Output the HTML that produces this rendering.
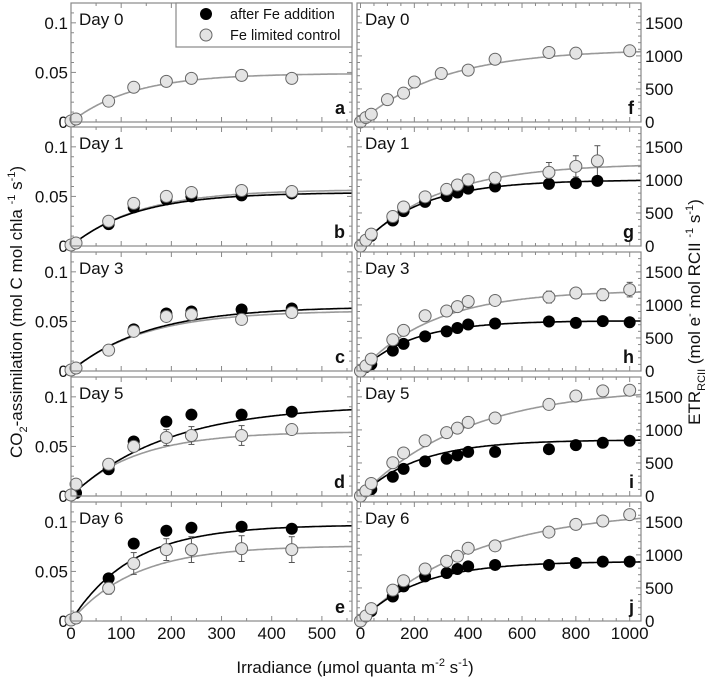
<!DOCTYPE html>
<html><head><meta charset="utf-8"><style>
body{margin:0;background:#fff}
svg{display:block;font-family:"Liberation Sans",Arial,sans-serif}
</style></head><body>
<svg id="c" width="717" height="677" viewBox="0 0 717 677" xmlns="http://www.w3.org/2000/svg"></svg>
<script>
// ---- data ----
const dayLabels=["Day 0","Day 1","Day 3","Day 5","Day 6"];
const leftLetters=["a","b","c","d","e"];
const rightLetters=["f","g","h","i","j"];
const leftX=[0,10,75,125,190,240,340,440];
const leftBlack=[null,[0.001,0.003,0.022,0.039,0.047,0.050,0.051,0.053],[0.001,0.003,0.021,0.042,0.058,0.060,0.062,0.063],[0.001,0.003,0.027,0.055,0.075,0.082,0.082,0.085],[0.001,0.003,0.043,0.078,0.091,0.094,0.095,0.093]];
const leftGray=[[0.001,0.003,0.021,0.035,0.041,0.044,0.047,0.044],[0.001,0.003,0.025,0.043,0.050,0.054,0.056,0.055],[0.001,0.003,0.021,0.040,0.055,0.057,0.052,0.059],[0.001,0.012,0.032,0.050,0.059,0.061,0.061,0.067],[0.001,0.003,0.033,0.058,0.072,0.072,0.073,0.072]];
const leftGrayErr=[[0,0,0,0.002,0,0,0.002,0],[0,0,0,0,0,0,0,0.002],[0,0,0,0,0,0,0,0],[0,0,0,0.005,0.008,0.009,0.01,0.003],[0,0,0.006,0.011,0.011,0.013,0.013,0.013]];
const leftBlackPmax=[null,0.054,0.065,0.092,0.097];
const leftBlackAlpha=[null,0.00042,0.00042,0.00048,0.0008];
const leftGrayPmax=[0.049,0.057,0.061,0.065,0.076];
const leftGrayAlpha=[0.0004,0.00042,0.00042,0.0005,0.0006];

const rightXs=[[0,20,40,100,160,200,300,400,500,700,800,1000],[0,20,40,120,160,240,320,360,400,500,700,800,880],[0,20,40,120,160,240,320,360,400,500,700,800,900,1000],[0,20,40,120,160,240,320,360,400,500,700,800,900,1000],[0,20,40,120,160,240,320,360,400,500,700,800,900,1000]];
const rightBlack=[null,[0,77,154,385,528,667,754,810,867,900,940,950,985],[0,61,102,308,410,523,600,651,703,718,749,728,754,738],[0,77,103,292,410,523,564,615,667,667,708,770,805,836],[0,76,152,370,523,675,726,787,827,848,848,878,898,898]];
const rightGray=[[0,67,118,338,436,605,733,785,949,1051,1041,1077],[0,87,180,446,590,744,856,923,1000,1026,1113,1205,1287],[0,77,180,472,615,836,908,974,1051,1067,1118,1180,1154,1231],[0,77,190,503,651,836,959,1026,1113,1180,1385,1513,1590,1600],[0,76,188,467,609,787,904,980,1101,1137,1345,1462,1513,1609]];
const rightGrayErr=[[0,0,0,0,0,50,0,0,0,0,0,0],[0,0,0,0,0,0,0,0,50,50,150,160,230],[0,0,0,0,0,0,0,0,0,50,90,70,90,110],[0,0,0,0,0,0,0,0,0,0,60,0,0,0],[0,0,0,0,0,0,0,0,0,0,70,70,80,60]];
const rightBlackPmax=[null,1000,760,850,900];
const rightBlackAlpha=[null,4.5,4,4,4.2];
const rightGrayPmax=[1100,1250,1220,1650,1700];
const rightGrayAlpha=[3.6,4.3,4.5,4.2,4.0];
const leftXTicks=[0,100,200,300,400,500];
const rightXTicks=[0,200,400,600,800,1000];
const leftYTicks=[0,0.05,0.1];
const leftYTickLabels=["0","0.05","0.1"];
const rightYTicks=[0,500,1000,1500];

// ---- drawing ----
const svg=document.getElementById('c');
const NS='http://www.w3.org/2000/svg';
function mk(tag,attrs,parent){const e=document.createElementNS(NS,tag);for(const k in attrs)e.setAttribute(k,attrs[k]);(parent||svg).appendChild(e);return e;}
const tops=[3,127,252,377,502];
const PH=119;
const L={x0:71,x1:352,xmin:0,xmax:560,ymin:0,ymax:0.12};
const R={x0:357,x1:641,xmin:-13,xmax:1042,ymin:0,ymax:1800};
function sx(p,v){return p.x0+(v-p.xmin)/(p.xmax-p.xmin)*(p.x1-p.x0);}
function sy(p,top,v){return top+PH-(v-p.ymin)/(p.ymax-p.ymin)*PH;}

function panel(p,r,side){
  const top=tops[r];
  const g=mk('g',{});
  
  
  const xstep=50, xmaj=side==='L'?100:200;
  for(let v=0;v<=p.xmax;v+=xstep){const X=sx(p,v);const len=(v%xmaj===0)?5:3;
    mk('line',{x1:X,x2:X,y1:top+PH,y2:top+PH-len,stroke:'#888','stroke-width':1},g);
    mk('line',{x1:X,x2:X,y1:top,y2:top+len,stroke:'#888','stroke-width':1},g);}
  const ystep=side==='L'?0.01:100, ymaj=side==='L'?0.05:500;
  for(let i=0;i*ystep<=p.ymax+1e-9;i++){const v=i*ystep;const Y=sy(p,top,v);const len=(Math.abs(v/ymaj-Math.round(v/ymaj))<1e-6)?5:3;
    mk('line',{x1:p.x0,x2:p.x0+len,y1:Y,y2:Y,stroke:'#888','stroke-width':1},g);
    mk('line',{x1:p.x1,x2:p.x1-len,y1:Y,y2:Y,stroke:'#888','stroke-width':1},g);}
  if(side==='L'){leftYTicks.forEach((v,i)=>{const t=mk('text',{x:p.x0-3,y:sy(p,top,v)+6,'font-size':17,'text-anchor':'end',fill:'#111'},g);t.textContent=leftYTickLabels[i];});}
  else{rightYTicks.forEach(v=>{const t=mk('text',{x:p.x1+4,y:sy(p,top,v)+6,'font-size':17,'text-anchor':'start',fill:'#111'},g);t.textContent=v;});}
  if(r===4){(side==='L'?leftXTicks:rightXTicks).forEach(v=>{const t=mk('text',{x:sx(p,v),y:top+PH+18,'font-size':17,'text-anchor':'middle',fill:'#111'},g);t.textContent=v;});}
  const dl=mk('text',{x:p.x0+8,y:top+22,'font-size':17,fill:'#111'},g);dl.textContent=dayLabels[r];
  const lt=mk('text',{x:p.x1-7,y:top+PH-8,'font-size':18,'font-weight':'bold','text-anchor':'end',fill:'#111'},g);lt.textContent=side==='L'?leftLetters[r]:rightLetters[r];
  const clipId='clip'+side+r;
  const cp=mk('clipPath',{id:clipId},g);mk('rect',{x:p.x0,y:top,width:p.x1-p.x0,height:PH},cp);
  const curves=side==='L'?[[leftGrayPmax[r],leftGrayAlpha[r],'#999'],[leftBlackPmax[r],leftBlackAlpha[r],'#000']]:[[rightGrayPmax[r],rightGrayAlpha[r],'#999'],[rightBlackPmax[r],rightBlackAlpha[r],'#000']];
  curves.forEach(([pm,al,col])=>{if(pm==null)return;let d='';for(let i=0;i<=200;i++){const v=p.xmax*i/200;const y=pm*(1-Math.exp(-al*v/pm));d+=(i?'L':'M')+sx(p,v).toFixed(1)+','+sy(p,top,y).toFixed(1);}
    const c=mk('path',{d:d,fill:'none',stroke:col,'stroke-width':1.6,'clip-path':'url(#'+clipId+')'},g);
    
    });
  const xs=side==='L'?leftX:rightXs[r];
  const gy=side==='L'?leftGray[r]:rightGray[r];
  const ge=side==='L'?leftGrayErr[r]:rightGrayErr[r];
  const by=side==='L'?leftBlack[r]:rightBlack[r];
  gy.forEach((v,i)=>{const X=sx(p,xs[i]);if(ge[i]>0){const y1=sy(p,top,v+ge[i]),y2=sy(p,top,v-ge[i]);
    mk('line',{x1:X,x2:X,y1:y1,y2:y2,stroke:'#555','stroke-width':1},g);mk('line',{x1:X-3,x2:X+3,y1:y1,y2:y1,stroke:'#555'},g);mk('line',{x1:X-3,x2:X+3,y1:y2,y2:y2,stroke:'#555'},g);}});
  if(by)by.forEach((v,i)=>{const c=mk('circle',{cx:sx(p,xs[i]),cy:sy(p,top,v),r:6,fill:'#000'},g);
    
    });
  gy.forEach((v,i)=>{const c=mk('circle',{cx:sx(p,xs[i]),cy:sy(p,top,v),r:6,fill:'#e4e4e4',stroke:'#666','stroke-width':1},g);
    
    });
  mk('rect',{x:p.x0,y:top,width:p.x1-p.x0,height:PH,fill:'none',stroke:'#888','stroke-width':1.2},g);
}
for(let r=0;r<5;r++){panel(L,r,'L');panel(R,r,'R');}
</script>
<svg style="position:absolute;left:0;top:0" width="717" height="677" font-family="Liberation Sans, Arial, sans-serif">
  <g>
    <rect x="176" y="3" width="176" height="44" fill="#fff" stroke="#888" stroke-width="1.2"/>
    <circle cx="206" cy="14" r="6" fill="#000"/>
    <text x="230" y="19" font-size="14.5" fill="#111">after Fe addition</text>
    <circle cx="206" cy="35" r="6" fill="#e4e4e4" stroke="#666"/>
    <text x="230" y="40" font-size="14.5" fill="#111">Fe limited control</text>
  </g>
  <text x="355" y="673" font-size="17" text-anchor="middle" fill="#111">Irradiance (μmol quanta m<tspan dy="-7" font-size="11">-2</tspan><tspan dy="7"> s</tspan><tspan dy="-7" font-size="11">-1</tspan><tspan dy="7">)</tspan></text>
  <text transform="translate(22,312) rotate(-90)" font-size="17" text-anchor="middle" fill="#111">CO<tspan dy="5" font-size="11">2</tspan><tspan dy="-5">-assimilation (mol C mol chla </tspan><tspan dy="-7" font-size="11">-1</tspan><tspan dy="7"> s</tspan><tspan dy="-7" font-size="11">-1</tspan><tspan dy="7">)</tspan></text>
  <text transform="translate(700,312) rotate(-90)" font-size="17" text-anchor="middle" fill="#111">ETR<tspan dy="5" font-size="11">RCII</tspan><tspan dy="-5"> (mol e</tspan><tspan dy="-7" font-size="11">-</tspan><tspan dy="7"> mol RCII </tspan><tspan dy="-7" font-size="11">-1</tspan><tspan dy="7"> s</tspan><tspan dy="-7" font-size="11">-1</tspan><tspan dy="7">)</tspan></text>
</svg>
</body></html>
